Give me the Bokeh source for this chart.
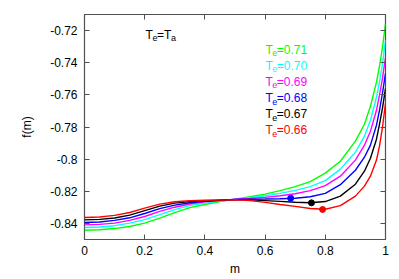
from bokeh.plotting import figure
from bokeh.models import Range1d, LinearAxis, FixedTicker, CustomLabelingPolicy
from bokeh.core.properties import value
from bokeh.embed import file_html
from bokeh.resources import INLINE

# ---- data ----
m = [0, 0.05, 0.1, 0.15, 0.2, 0.25, 0.3, 0.35, 0.4, 0.45, 0.5, 0.55, 0.6,
     0.65, 0.7, 0.75, 0.8, 0.85, 0.9, 0.93, 0.95, 0.97, 0.98, 0.99, 1.0]

f_066 = [-0.8363, -0.8360, -0.8350, -0.8332, -0.8305, -0.8280, -0.8265, -0.8259,
         -0.8256, -0.8255, -0.8253, -0.8258, -0.8269, -0.8282, -0.8294, -0.8307,
         -0.8312, -0.8289, -0.8230, -0.8168, -0.8106, -0.8006, -0.7919, -0.7801, -0.7652]
f_067 = [-0.8378, -0.8375, -0.8366, -0.8348, -0.8320, -0.8292, -0.8274, -0.8264,
         -0.8259, -0.8255, -0.8252, -0.8253, -0.8258, -0.8263, -0.8268, -0.8271,
         -0.8264, -0.8230, -0.8156, -0.8075, -0.7994, -0.7876, -0.7783, -0.7683, -0.7559]
f_068 = [-0.8394, -0.8391, -0.8381, -0.8365, -0.8338, -0.8308, -0.8286, -0.8271,
         -0.8263, -0.8256, -0.8251, -0.8249, -0.8248, -0.8246, -0.8243, -0.8234,
         -0.8213, -0.8159, -0.8069, -0.7988, -0.7913, -0.7789, -0.7696, -0.7590, -0.7466]
f_069 = [-0.8409, -0.8406, -0.8398, -0.8381, -0.8357, -0.8325, -0.8299, -0.8279,
         -0.8266, -0.8258, -0.8250, -0.8245, -0.8238, -0.8228, -0.8215, -0.8196,
         -0.8165, -0.8106, -0.8006, -0.7913, -0.7826, -0.7696, -0.7602, -0.7497, -0.7366]
f_070 = [-0.8425, -0.8422, -0.8414, -0.8398, -0.8376, -0.8345, -0.8314, -0.8289,
         -0.8274, -0.8261, -0.8250, -0.8240, -0.8228, -0.8213, -0.8194, -0.8171,
         -0.8134, -0.8062, -0.7957, -0.7857, -0.7758, -0.7615, -0.7521, -0.7410, -0.7260]
f_071 = [-0.8442, -0.8439, -0.8432, -0.8419, -0.8398, -0.8367, -0.8333, -0.8302,
         -0.8282, -0.8264, -0.8249, -0.8234, -0.8218, -0.8196, -0.8171, -0.8140,
         -0.8087, -0.8013, -0.7888, -0.7783, -0.7671, -0.7521, -0.7422, -0.7304, -0.7155]

# marked points (minima)
dot_m = [0.685, 0.754, 0.791]
dot_f = [-0.8243, -0.8272, -0.8313]
dot_colors = ["#0000ff", "#000000", "#ff0000"]

temps = ["0.71", "0.70", "0.69", "0.68", "0.67", "0.66"]
colors = ["#00ff00", "#00ffff", "#ff00ff", "#0000ff", "#000000", "#ff0000"]
curves = [f_071, f_070, f_069, f_068, f_067, f_066]

x_ticks = [0, 0.2, 0.4, 0.6, 0.8, 1.0]
x_tick_labels = ["0", "0.2", "0.4", "0.6", "0.8", "1"]
y_ticks = [-0.84, -0.82, -0.80, -0.78, -0.76, -0.74, -0.72]
y_tick_labels = ["-0.84", "-0.82", "-0.8", "-0.78", "-0.76", "-0.74", "-0.72"]

FONT = "Liberation Sans"
BORDER = "#505050"

p = figure(width=399, height=279, x_range=Range1d(0, 1), y_range=Range1d(-0.85, -0.71),
           output_backend="svg", toolbar_location=None,
           min_border_left=84, min_border_right=14, min_border_top=14, min_border_bottom=40)
p.grid.visible = False
p.outline_line_color = BORDER
p.outline_line_width = 1.2
p.background_fill_color = "white"
p.border_fill_color = "white"

hide_all = CustomLabelingPolicy(code="""
    for (const i of Array.from(indices)) { indices.unset(i) }
    return indices
""")

def style_axis(ax, ticks, labels, show_labels):
    ax.ticker = FixedTicker(ticks=ticks)
    ax.axis_line_color = None
    ax.major_tick_in = 5
    ax.major_tick_out = 0
    ax.minor_tick_line_color = None
    ax.major_tick_line_color = BORDER
    ax.major_tick_line_width = 1
    if show_labels:
        ax.major_label_overrides = {t: l for t, l in zip(ticks, labels)}
        ax.major_label_text_font = FONT
        ax.major_label_text_font_size = "12px"
        ax.major_label_text_color = "black"
    else:
        ax.major_label_policy = hide_all
        ax.major_label_text_font_size = "1px"
        ax.major_label_standoff = 0

style_axis(p.xaxis[0], x_ticks, x_tick_labels, True)
style_axis(p.yaxis[0], y_ticks, y_tick_labels, True)
p.xaxis[0].major_label_standoff = 6
p.yaxis[0].major_label_standoff = 7
p.xaxis[0].axis_label = "m"
p.yaxis[0].axis_label = "f(m)"
for ax in (p.xaxis[0], p.yaxis[0]):
    ax.axis_label_text_font = FONT
    ax.axis_label_text_font_size = "12px"
    ax.axis_label_text_font_style = "normal"
    ax.axis_label_text_color = "black"
p.xaxis[0].axis_label_standoff = 4
p.yaxis[0].axis_label_standoff = 13

top = LinearAxis()
style_axis(top, x_ticks, x_tick_labels, False)
p.add_layout(top, "above")
right = LinearAxis()
style_axis(right, y_ticks, y_tick_labels, False)
p.add_layout(right, "right")

for f, c in zip(curves, colors):
    p.line(m, f, line_color=c, line_width=1.4)

p.scatter(dot_m, dot_f, size=6, fill_color=dot_colors, line_color=dot_colors, marker="circle")

# text annotations
def sub_label(x, y, main, sub, rest, color, rest_sub=None):
    p.text(x=[x], y=[y], text=[main], text_font=value(FONT), text_font_size="12px",
           text_color=color, text_baseline="alphabetic", text_align="left")
    p.text(x=[x], y=[y], text=[sub], text_font=value(FONT), text_font_size="9px",
           text_color=color, text_baseline="alphabetic", text_align="left",
           x_offset=6.8, y_offset=3.5)
    p.text(x=[x], y=[y], text=[rest], text_font=value(FONT), text_font_size="12px",
           text_color=color, text_baseline="alphabetic", text_align="left",
           x_offset=11.3)
    if rest_sub:
        p.text(x=[x], y=[y], text=[rest_sub], text_font=value(FONT), text_font_size="9px",
               text_color=color, text_baseline="alphabetic", text_align="left",
               x_offset=25.4, y_offset=3.5)

sub_label(0.203, -0.7225, "T", "e", "=T", "black", rest_sub="a")

leg_x = 0.601
leg_y0 = -0.7318
leg_dy = 0.01007
for i, (t, c) in enumerate(zip(temps, colors)):
    sub_label(leg_x, leg_y0 - i * leg_dy, "T", "e", "=" + t, c)

open("out.html", "w").write(file_html(p, INLINE))
